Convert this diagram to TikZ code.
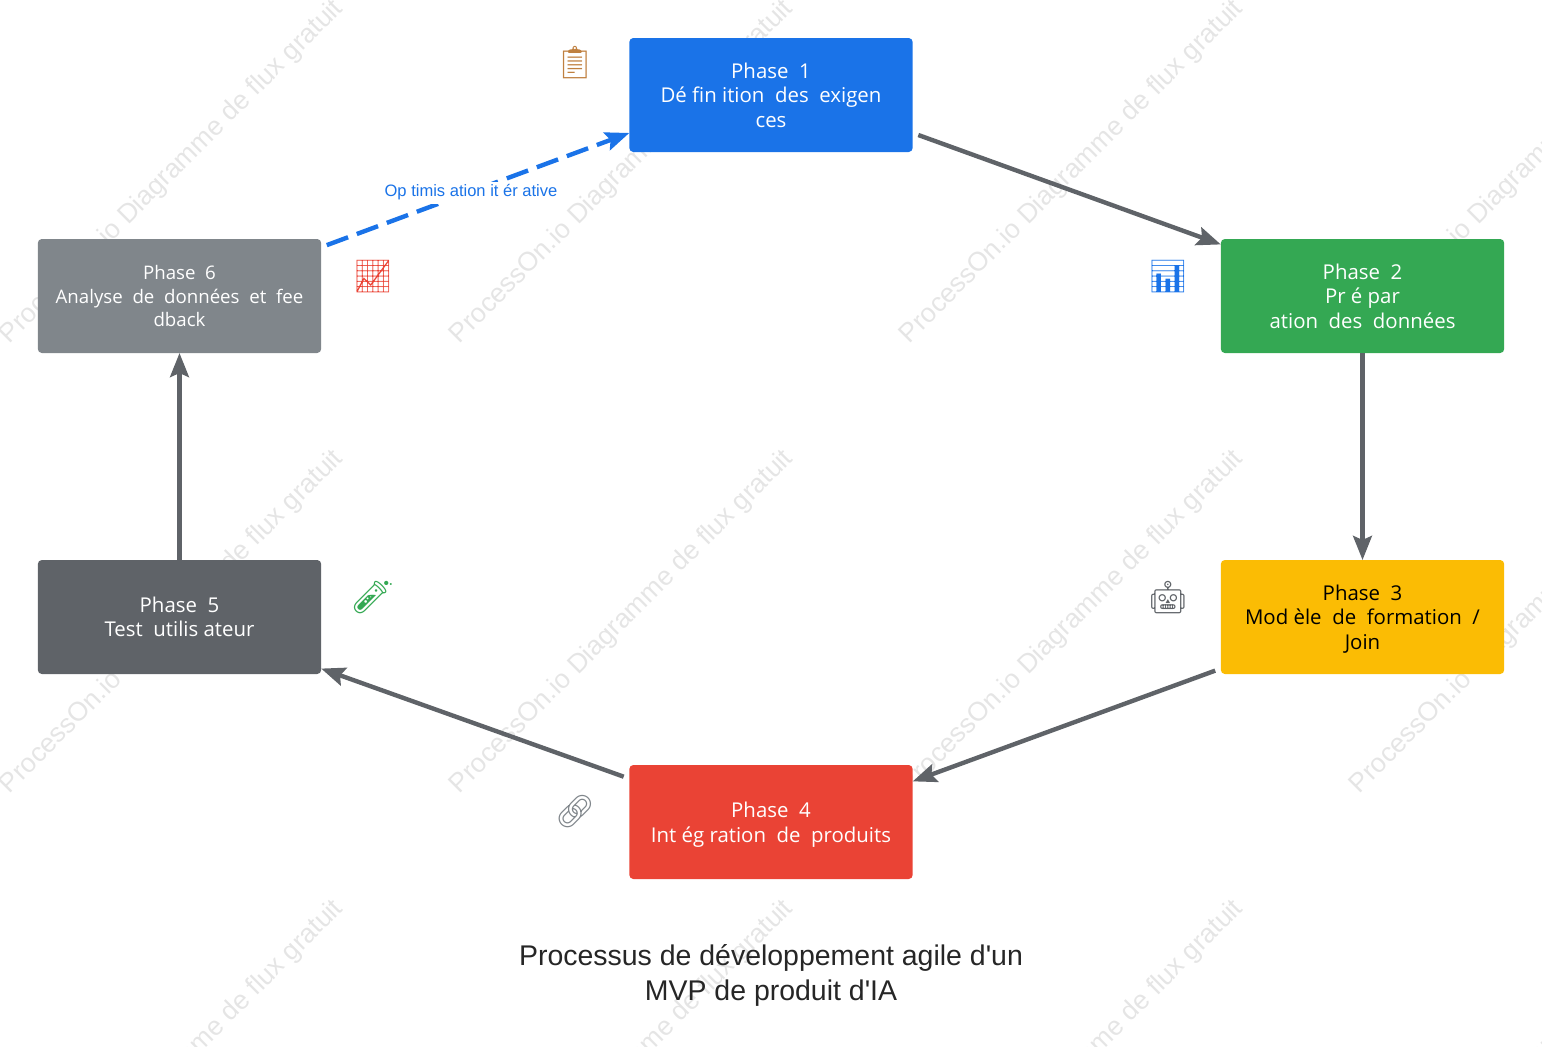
\documentclass[tikz,border=0pt]{standalone}
\usepackage{fontspec}
\setmainfont{Open Sans}
\newfontfamily\arialfont{Liberation Sans}
\newfontfamily\emojifont{Noto Emoji}
\usetikzlibrary{arrows.meta}
\definecolor{phaseblue}{HTML}{1A73E8}
\definecolor{phasegreen}{HTML}{34A853}
\definecolor{phaseyellow}{HTML}{FBBC04}
\definecolor{phasered}{HTML}{EA4335}
\definecolor{phasedark}{HTML}{5F6368}
\definecolor{phasegrey}{HTML}{80868B}
\tikzset{
    phase/.style={
    rectangle,rounded corners=3pt,minimum width=212.5pt,minimum height=85.5pt,
    outer sep=0pt,inner sep=0pt,align=center,text=white,
    font=\fontsize{15.3}{18.4}\selectfont
    },
    flow/.style={
    draw=phasedark,line width=3.3pt,-{Stealth[length=18pt,width=14pt,inset=3pt]}
    },
    loopback/.style={
    draw=phaseblue,line width=3.3pt,dash pattern=on 17pt off 7pt,
    -{Stealth[length=18pt,width=14pt,inset=3pt]}
    },
    icon/.style={
    font=\emojifont\fontsize{24}{24}\selectfont
    },
    watermark/.style={
    rotate=45,text=black!10,font=\arialfont\fontsize{20}{22}\selectfont
    },
}

\begin{document}
\begin{tikzpicture}[x=0.75pt,y=-0.75pt]
   \useasboundingbox (0,0) rectangle (1542,1046);

   \begin{scope}
   \clip (0,0) rectangle (1542,1046);
   \foreach \wx in {172,622,1072,1522}
     \foreach \wy in {172,622,1072}
       \node[watermark] (w\wx-\wy) at (\wx,\wy) {ProcessOn.io Diagramme de flux gratuit};
   \end{scope}

   \node[phase,fill=phaseblue]   (p1) at (771,95)     {Phase\ \ 1\\Dé fin ition\ \ des\ \ exigen\\ces};
   \node[phase,fill=phasegreen]  (p2) at (1362.5,296) {Phase\ \ 2\\Pr é par\\ation\ \ des\ \ données};
   \node[phase,fill=phaseyellow,text=black] (p3) at (1362.5,617) {Phase\ \ 3\\Mod èle\ \ de\ \ formation\ \ /\\\smash{Join}};
   \node[phase,fill=phasered]    (p4) at (771,822)    {Phase\ \ 4\\\smash{Int ég ration\ \ de\ \ produits}};
   \node[phase,fill=phasedark]   (p5) at (179.5,617)  {Phase\ \ 5\\Test\ \ utilis ateur};
   \node[phase,fill=phasegrey,font=\fontsize{14}{17.4}\selectfont] (p6) at (179.5,296) {Phase\ \ 6\\Analyse\ \ de\ \ données\ \ et\ \ fee\\dback};

   \node[icon,text=brown]       (i1) at (575,63)   {📋};
   \node[icon,text=phaseblue]   (i2) at (1168,277) {📊};
   \node[icon,text=phasedark]   (i3) at (1168,598) {🤖};
   \node[icon,text=phasegrey]   (i4) at (575,812)  {🔗};
   \node[icon,text=phasegreen]  (i5) at (373,598)  {🧪};
   \node[icon,text=phasered]    (i6) at (373,277)  {📈};

   \path
    (p1.-15.7) edge[flow,shorten <=4.5pt] (p2.160.2)
    (p2.south) edge[flow] (p3.north)
    (p3.200.2) edge[flow,shorten <=4.5pt] (p4.16.5)
    (p4.163.4) edge[flow,shorten <=4.5pt] (p5.-20.5)
    (p5.north) edge[flow] (p6.south)
    (p6.19.7)  edge[loopback,shorten <=4.5pt] (p1.195.4);

   \node[fill=white,inner sep=0pt,minimum height=16.5pt,text=phaseblue,font=\arialfont\fontsize{12.4}{14}\selectfont] (opt) at (471,192.5) {Op timis ation it ér ative};

   \node[align=center,text=black!85,font=\arialfont\fontsize{21.35}{26.2}\selectfont] (title) at (771,975) {Processus de développement agile d'un\\MVP de produit d'IA};
\end{tikzpicture}
\end{document}
